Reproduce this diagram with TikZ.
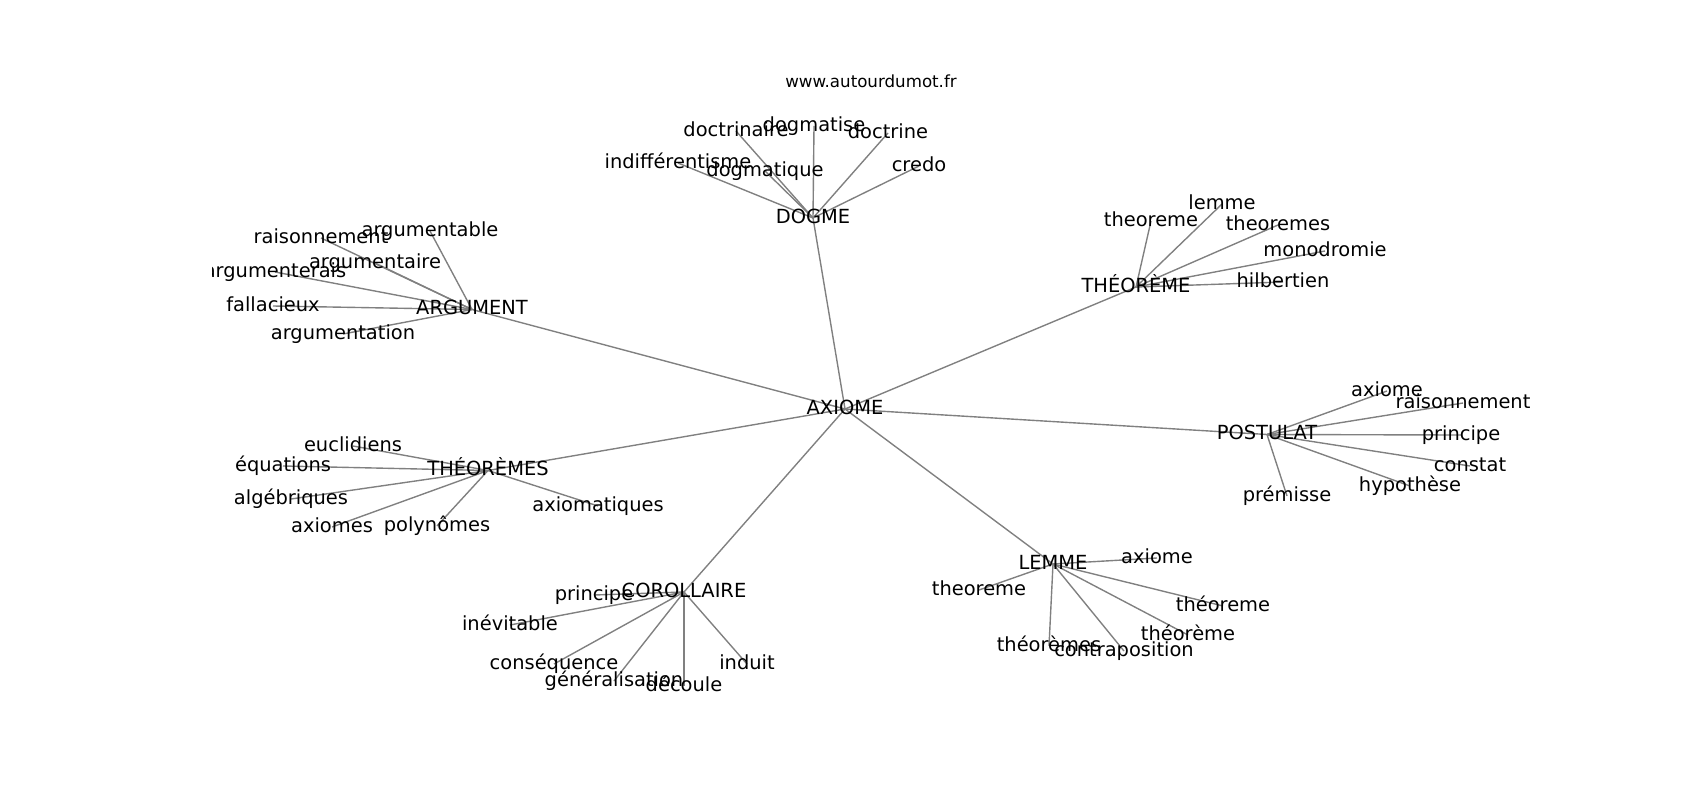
\documentclass[tikz,border=0pt]{standalone}
\usepackage{fontspec}
\setmainfont{DejaVu Sans}
\usepackage{tikz}
\pgfdeclarelayer{background}
\pgfsetlayers{background,main}

\begin{document}
\begin{tikzpicture}[
        x=1pt, y=-1pt,
        every node/.style={inner sep=0pt, anchor=center, font=\fontsize{19.44}{23}\selectfont, text height=14.8pt, text depth=4.1pt},
        site/.style={font=\fontsize{16.67}{20}\selectfont, anchor=base, text height=, text depth=},
        link/.style={draw=gray, line width=1.39pt}
    ]
    \useasboundingbox (0,0) rectangle (1700,800);

    % Title
    \node[site] (site) at (871,87.7) {www.autourdumot.fr};

    % Nodes
    \begin{scope}
    \clip (212.5,96) rectangle (1530,712);
    \node (axiome) at (845,409) {AXIOME};
    \node (dogme) at (813,218) {DOGME};
    \node (argument) at (472,309.5) {ARGUMENT};
    \node (theoreme) at (1136,287) {THÉORÈME};
    \node (postulat) at (1267,434.5) {POSTULAT};
    \node (theoremes) at (488,470.5) {THÉORÈMES};
    \node (corollaire) at (684,592) {COROLLAIRE};
    \node (lemme) at (1053,564) {LEMME};

    \node (dg-doctrinaire) at (736,131) {doctrinaire};
    \node (dg-dogmatise) at (814,126) {dogmatise};
    \node (dg-doctrine) at (888,133) {doctrine};
    \node (dg-indifferentisme) at (678,163) {indifférentisme};
    \node (dg-dogmatique) at (765,171) {dogmatique};
    \node (dg-credo) at (919,166) {credo};

    \node (ar-raisonnement) at (321,238) {raisonnement};
    \node (ar-argumentable) at (430,231) {argumentable};
    \node (ar-argumenterais) at (275,272) {argumenterais};
    \node (ar-argumentaire) at (375,263) {argumentaire};
    \node (ar-fallacieux) at (273,306) {fallacieux};
    \node (ar-argumentation) at (343,334) {argumentation};

    \node (th-theoreme) at (1151,221) {theoreme};
    \node (th-lemme) at (1222,204) {lemme};
    \node (th-theoremes) at (1278,225) {theoremes};
    \node (th-monodromie) at (1325,251) {monodromie};
    \node (th-hilbertien) at (1283,282) {hilbertien};

    \node (po-axiome) at (1387,391) {axiome};
    \node (po-raisonnement) at (1463,403) {raisonnement};
    \node (po-principe) at (1461,435) {principe};
    \node (po-constat) at (1470,466) {constat};
    \node (po-hypothese) at (1410,486) {hypothèse};
    \node (po-premisse) at (1287,496) {prémisse};

    \node (ts-euclidiens) at (353,446) {euclidiens};
    \node (ts-equations) at (283,466) {équations};
    \node (ts-algebriques) at (291,499) {algébriques};
    \node (ts-axiomes) at (332,527) {axiomes};
    \node (ts-polynomes) at (437,526) {polynômes};
    \node (ts-axiomatiques) at (598,506) {axiomatiques};

    \node (co-principe) at (594,595) {principe};
    \node (co-inevitable) at (510,625) {inévitable};
    \node (co-consequence) at (554,664) {conséquence};
    \node (co-generalisation) at (614,681) {généralisation};
    \node (co-decoule) at (684,686) {découle};
    \node (co-induit) at (747,664) {induit};

    \node (le-axiome) at (1157,558) {axiome};
    \node (le-theoreme) at (979,590) {theoreme};
    \node (le-theoremeb) at (1223,606) {théoreme};
    \node (le-theoremec) at (1188,635) {théorème};
    \node (le-theoremes) at (1049,646) {théorèmes};
    \node (le-contraposition) at (1124,651) {contraposition};
    \end{scope}

    % Edges
    \begin{pgfonlayer}{background}
    \foreach \h in {dogme,argument,theoreme,postulat,theoremes,corollaire,lemme}
        \draw[link] (axiome.center) -- (\h.center);
    \foreach \w in {doctrinaire,dogmatise,doctrine,indifferentisme,dogmatique,credo}
        \draw[link] (dogme.center) -- (dg-\w.center);
    \foreach \w in {raisonnement,argumentable,argumenterais,argumentaire,fallacieux,argumentation}
        \draw[link] (argument.center) -- (ar-\w.center);
    \foreach \w in {theoreme,lemme,theoremes,monodromie,hilbertien}
        \draw[link] (theoreme.center) -- (th-\w.center);
    \foreach \w in {axiome,raisonnement,principe,constat,hypothese,premisse}
        \draw[link] (postulat.center) -- (po-\w.center);
    \foreach \w in {euclidiens,equations,algebriques,axiomes,polynomes,axiomatiques}
        \draw[link] (theoremes.center) -- (ts-\w.center);
    \foreach \w in {principe,inevitable,consequence,generalisation,decoule,induit}
        \draw[link] (corollaire.center) -- (co-\w.center);
    \foreach \w in {axiome,theoreme,theoremeb,theoremec,theoremes,contraposition}
        \draw[link] (lemme.center) -- (le-\w.center);
    \end{pgfonlayer}

\end{tikzpicture}
\end{document}
